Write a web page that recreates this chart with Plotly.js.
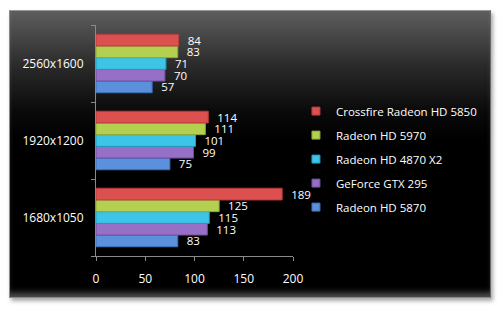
<!DOCTYPE html>
<html>
<head>
<meta charset="utf-8">
<script src="https://cdn.plot.ly/plotly-3.0.1.min.js"></script>
<style>
  html, body { margin: 0; padding: 0; background: #ffffff; }
  #wrap { position: relative; width: 499px; height: 312px; overflow: hidden; }
  #panel {
    position: absolute; left: 9px; top: 10px; width: 480px; height: 286px;
    background: linear-gradient(to bottom, #5e5e5e 0px, #2a2a2a 55px, #0a0a0a 100px, #000000 130px, #000000 100%);
    border-top: 1px solid #9a9a9a; border-left: 1px solid #8a8a8a; border-right: 1px solid #6a6a6a; border-bottom: 1px solid #8a8a8a;
    box-shadow: inset 0 -7px 6px -3px rgba(150,150,150,0.55), 2px 3px 4px rgba(0,0,0,0.35);
  }
  #chart { position: absolute; left: 0; top: 0; width: 499px; height: 312px; }
</style>
</head>
<body>
<div id="wrap">
  <div id="panel"></div>
  <div id="chart"></div>
</div>
<script>
const categories = ['1680x1050', '1920x1200', '2560x1600'];
const seriesNames = ['Radeon HD 5870', 'GeForce GTX 295', 'Radeon HD 4870 X2', 'Radeon HD 5970', 'Crossfire Radeon HD 5850'];
const radeon5870 = [83, 75, 57];
const gtx295 = [113, 99, 70];
const radeon4870x2 = [115, 101, 71];
const radeon5970 = [125, 111, 83];
const crossfire5850 = [189, 114, 84];
const xTicks = [0, 50, 100, 150, 200];

const seriesValues = [radeon5870, gtx295, radeon4870x2, radeon5970, crossfire5850];
const colors = ['#5a90dc', '#9670c6', '#3ec4e6', '#b4d050', '#dc5050'];
const lineColors = ['#3f6fb8', '#6e4e9e', '#1f9cc0', '#8aa838', '#b83a3a'];

const barTraces = seriesValues.map((vals, i) => ({
  type: 'bar',
  orientation: 'h',
  name: seriesNames[i],
  y: categories,
  x: vals,
  showlegend: false,
  marker: { color: colors[i], line: { color: lineColors[i], width: 1 } },
  texttemplate: '\u00a0\u00a0%{x}',
  textposition: 'outside',
  constraintext: 'none',
  cliponaxis: false,
  textfont: { color: '#ffffff', size: 11.5, family: 'Open Sans, DejaVu Sans, sans-serif' },
  hoverinfo: 'none'
}));

const legendTraces = seriesNames.map((name, i) => ({
  type: 'scatter',
  mode: 'markers',
  name: name,
  x: [null],
  y: [null],
  legendgroup: 'g' + i,
  legendrank: 10 - i,
  marker: { symbol: 'square', size: 8, color: colors[i], line: { color: lineColors[i], width: 1 } },
  hoverinfo: 'none'
}));

const layout = {
  width: 499, height: 312,
  margin: { l: 96, r: 206, t: 25, b: 56, autoexpand: false },
  paper_bgcolor: 'rgba(0,0,0,0)',
  plot_bgcolor: 'rgba(0,0,0,0)',
  font: { family: 'Open Sans, DejaVu Sans, sans-serif', color: '#ffffff', size: 12 },
  barmode: 'group',
  bargap: 0.24,
  bargroupgap: 0,
  showlegend: true,
  legend: {
    x: 1.015, xanchor: 'left', y: 0.69, yanchor: 'top',
    traceorder: 'grouped',
    tracegroupgap: 5,
    bgcolor: 'rgba(0,0,0,0)',
    font: { color: '#ffffff', size: 11.5 },
    itemwidth: 30
  },
  xaxis: {
    range: [0, 200],
    tickvals: xTicks,
    ticktext: xTicks.map(String),
    showgrid: false, zeroline: false,
    showline: true, linecolor: '#8a8a8a', linewidth: 1,
    ticks: 'outside', ticklen: 4, tickcolor: '#8a8a8a',
    tickfont: { color: '#ffffff', size: 12 },
    ticklabelstandoff: 8
  },
  yaxis: {
    type: 'category',
    categoryorder: 'array', categoryarray: categories,
    showgrid: false, zeroline: false,
    showline: true, linecolor: '#8a8a8a', linewidth: 1,
    ticks: 'outside', ticklen: 4, tickcolor: '#8a8a8a',
    tickson: 'boundaries',
    tickfont: { color: '#ffffff', size: 12 },
    ticklabelstandoff: 9
  }
};

Plotly.newPlot('chart', barTraces.concat(legendTraces), layout, { displayModeBar: false, staticPlot: true });
</script>
</body>
</html>
